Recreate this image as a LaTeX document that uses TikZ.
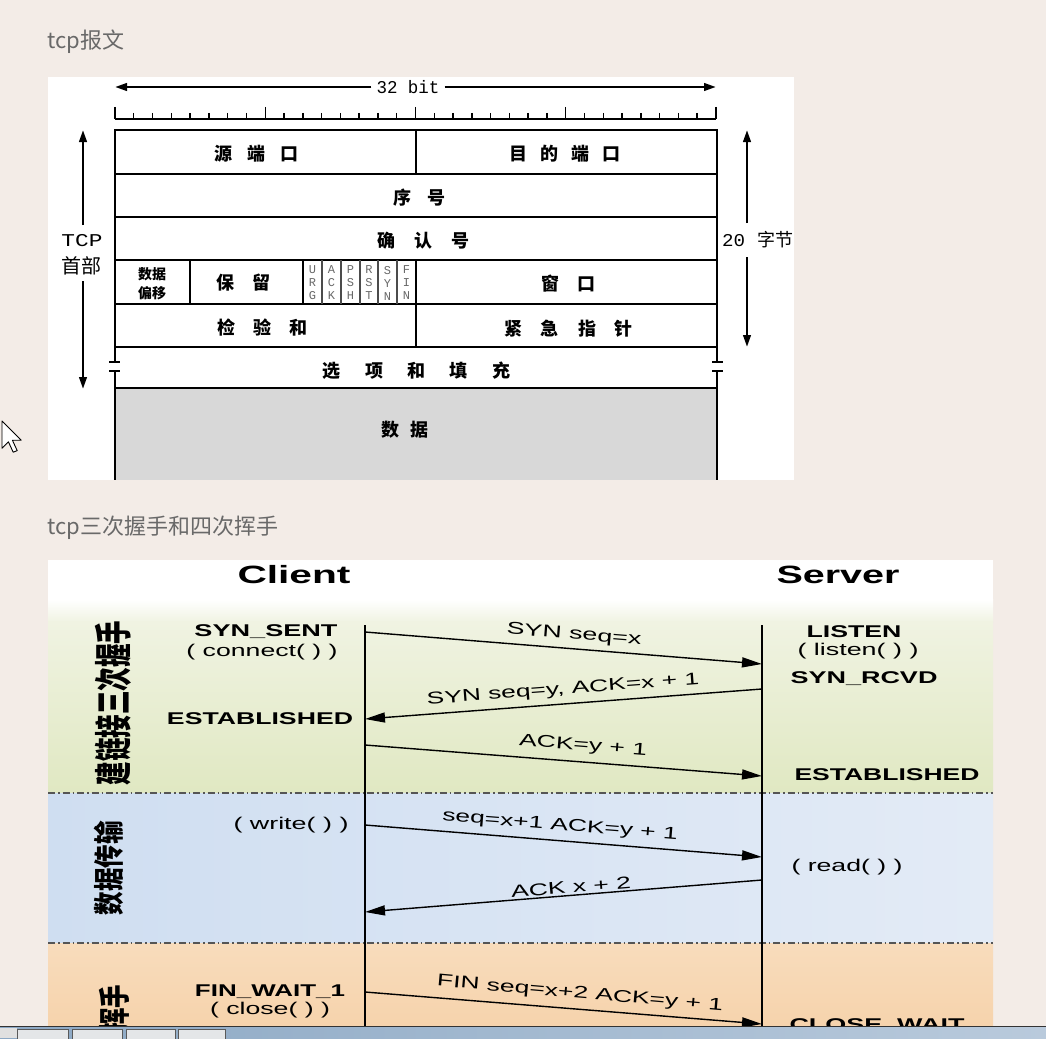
\documentclass[tikz,border=0pt]{standalone}
\usepackage{fontspec}
\setmainfont{Liberation Sans}
\newfontfamily\cjk{Noto Sans CJK SC}
\newfontfamily\monof{Liberation Mono}
\usetikzlibrary{arrows.meta}
\definecolor{bgc}{RGB}{243,236,231}
\definecolor{titlec}{RGB}{105,105,105}
\definecolor{datac}{RGB}{216,216,216}
\definecolor{greenT}{RGB}{240,243,226}
\definecolor{greenB}{RGB}{224,232,194}
\definecolor{blueL}{RGB}{207,222,241}
\definecolor{blueR}{RGB}{227,235,246}
\definecolor{orangeT}{RGB}{248,220,188}
\definecolor{orangeB}{RGB}{246,211,172}
\definecolor{flagc}{RGB}{105,105,105}
\definecolor{sepc}{RGB}{85,85,85}
\definecolor{taskL}{RGB}{140,168,196}
\definecolor{taskR}{RGB}{185,202,220}
\definecolor{btnc}{RGB}{228,230,232}
\newcommand\fitw[2]{\resizebox{#1}{\height}{#2}}
\newcommand\gp[1]{\hspace{#1pt}}
\begin{document}
\begin{tikzpicture}[x=1pt,y=-1pt,
  ttl/.style={font=\cjk\fontsize{22}{22}\selectfont, text=titlec, inner sep=0pt, anchor=west},
  tbl/.style={line width=1.7pt, black},
  flagln/.style={line width=1.2pt, black!70},
  tickln/.style={line width=1.4pt},
  toparr/.style={line width=2.5pt, -{Triangle[length=12pt,width=7.5pt]}},
  tcell/.style={font=\cjk\bfseries\fontsize{18}{18}\selectfont, inner sep=0pt},
  sidecell/.style={font=\cjk\fontsize{18}{18}\selectfont, inner sep=0pt},
  smallcell/.style={font=\cjk\bfseries\fontsize{14}{19}\selectfont, inner sep=0pt, align=center},
  monot/.style={font=\monof\fontsize{18}{18}\selectfont, inner sep=0pt},
  flagtxt/.style={font=\monof\fontsize{12}{13}\selectfont, text=flagc, align=center, inner sep=0pt},
  hdr/.style={font=\bfseries\fontsize{25}{25}\selectfont, inner sep=0pt},
  state/.style={font=\bfseries\fontsize{17}{17}\selectfont, inner sep=0pt},
  paren/.style={font=\fontsize{17}{17}\selectfont, inner sep=0pt},
  msg/.style={font=\fontsize{17}{17}\selectfont, inner sep=0pt},
  life/.style={line width=1.8pt},
  msgarr/.style={line width=1.4pt, -{Triangle[length=20pt,width=10pt]}},
  sepln/.style={line width=1.3pt, sepc, dash pattern=on 7pt off 3pt on 1.5pt off 3pt},
  vlab/.style={font=\cjk\bfseries\fontsize{23.5}{23.5}\selectfont, inner sep=0pt, rotate=90}
]
% background
\fill[bgc] (0,0) rectangle (1046,1038);
\useasboundingbox (0,0) rectangle (1046,1038);

% ===== titles =====
\node[ttl] (t1) at (47,42) {tcp报文};
\node[ttl] (t2) at (47,528) {tcp三次握手和四次挥手};

% ===== panel 1 =====
\fill[white] (48,77) rectangle (794,480);

% 32 bit arrow
\node[monot, inner xsep=5pt] (bits) at (408,87) {\fitw{63pt}{32 bit}};
\coordinate (bL) at (115,87);
\coordinate (bR) at (716,87);
\draw[toparr] (bits.west) -- (bL);
\draw[toparr] (bits.east) -- (bR);

% ruler
\draw[tickln] (115,119) -- (716,119);
\foreach \i in {0,...,32}{
  \pgfmathsetmacro\xx{115+\i*18.78}
  \pgfmathtruncatemacro\mm{mod(\i,8)}
  \ifnum\mm=0
    \draw[tickln] (\xx,107) -- (\xx,119);
  \else
    \draw[tickln] (\xx,113) -- (\xx,119);
  \fi
}

% data fill
\fill[datac] (115,388) rectangle (717,480);

% table lines
\foreach \yy in {130,174,217,260,304,347,388}{
  \draw[tbl] (115,\yy) -- (717,\yy);
}
\draw[tbl] (115,129.2) -- (115,362);
\draw[tbl] (115,372) -- (115,480);
\draw[tbl] (717,129.2) -- (717,362);
\draw[tbl] (717,372) -- (717,480);
\draw[line width=1.3pt] (109,362) -- (120,362);
\draw[line width=1.3pt] (109,371) -- (120,371);
\draw[line width=1.3pt] (712,362) -- (723,362);
\draw[line width=1.3pt] (712,371) -- (723,371);
\draw[tbl] (416,130) -- (416,174);
\draw[tbl] (416,260) -- (416,347);
\draw[tbl] (190,260) -- (190,304);
\draw[tbl] (303,260) -- (303,304);
\foreach \xx in {322,341,360,378,397}{
  \draw[flagln] (\xx,260) -- (\xx,304);
}

% table texts
\node[tcell] (srcport) at (256.5,154) {源\gp{15}端\gp{15}口};
\node[tcell] (dstport) at (565,154) {目\gp{13}的\gp{13}端\gp{13}口};
\node[tcell] (seqno) at (419.5,198) {序\gp{17}号};
\node[tcell] (ackno) at (423.5,241) {确\gp{19.5}认\gp{19.5}号};
\node[smallcell] (offset) at (152,284) {数据\\偏移};
\node[tcell] (resv) at (243.5,283) {保\gp{19}留};
\node[flagtxt] (fURG) at (312.5,283) {U\\R\\G};
\node[flagtxt] (fACK) at (331.5,283) {A\\C\\K};
\node[flagtxt] (fPSH) at (350.5,283) {P\\S\\H};
\node[flagtxt] (fRST) at (369,283) {R\\S\\T};
\node[flagtxt] (fSYN) at (387.5,283) {S\\Y\\N};
\node[flagtxt] (fFIN) at (406.5,283) {F\\I\\N};
\node[tcell] (window) at (568.5,283.5) {窗\gp{18}口};
\node[tcell] (chksum) at (262.5,327.5) {检\gp{18.5}验\gp{18.5}和};
\node[tcell] (urgent) at (568.5,328.5) {紧\gp{19}急\gp{19}指\gp{19}针};
\node[tcell] (options) at (416.5,371) {选\gp{24.5}项\gp{24.5}和\gp{24.5}填\gp{24.5}充};
\node[tcell] (data) at (405,430) {数\gp{12}据};

% TCP header arrow (left)
\node[monot] (tcpl) at (82,241) {\fitw{41pt}{TCP}};
\node[sidecell, font=\cjk\fontsize{20}{20}\selectfont] (shoubu) at (81,266) {首部};
\coordinate (tcpS1) at (83,225);
\coordinate (tcpTop) at (83,130);
\coordinate (tcpS2) at (83,281);
\coordinate (tcpBot) at (83,389);
\draw[toparr] (tcpS1) -- (tcpTop);
\draw[toparr] (tcpS2) -- (tcpBot);

% 20 bytes arrow (right)
\node[sidecell, anchor=west] (bytes) at (722,240) {{\monof\fitw{23pt}{20}}\gp{12}字节};
\coordinate (byS1) at (747,223);
\coordinate (byTop) at (747,130);
\coordinate (byS2) at (747,257);
\coordinate (byBot) at (747,347);
\draw[toparr] (byS1) -- (byTop);
\draw[toparr] (byS2) -- (byBot);

% ===== panel 2 =====
\fill[white] (48,560) rectangle (993,600);
\shade[top color=white, bottom color=greenT] (48,599.5) rectangle (993,622);
\shade[top color=greenT, bottom color=greenB] (48,621.5) rectangle (993,793);
\shade[left color=blueL, right color=blueR] (48,793) rectangle (993,943);
\shade[top color=orangeT, bottom color=orangeB] (48,943) rectangle (993,1026);
\draw[sepln] (48,793) -- (993,793);
\draw[sepln] (48,943) -- (993,943);

\node[hdr] (client) at (294,575) {\fitw{113pt}{Client}};
\node[hdr] (server) at (838,575) {\fitw{123pt}{Server}};

% vertical phase labels
\node[vlab] (ph1) at (113,703) {\scalebox{1}[1.6]{建链接三次握手}};
\node[vlab] (ph2) at (109,868) {\scalebox{1}[1.3]{数据传输}};
\node[vlab] (ph3) at (114,1008) {\scalebox{1}[1.35]{挥手}};

% lifelines
\coordinate (cTop) at (365,625);
\coordinate (cBot) at (365,1026);
\coordinate (sTop) at (762,625);
\coordinate (sBot) at (762,1026);
\draw[life] (cTop) -- (cBot);
\draw[life] (sTop) -- (sBot);

% client states
\node[state] (synsent) at (266,632) {\fitw{143pt}{SYN\_SENT}};
\node[paren] (connect) at (262,652) {\fitw{151pt}{( connect( ) )}};
\node[state] (estc) at (260,719) {\fitw{186pt}{ESTABLISHED}};
\node[paren] (write) at (291,825) {\fitw{115pt}{( write( ) )}};
\node[state] (finw) at (270,992) {\fitw{150pt}{FIN\_WAIT\_1}};
\node[paren] (close) at (270,1010) {\fitw{120pt}{( close( ) )}};

% server states
\node[state] (listen) at (854,632) {\fitw{95pt}{LISTEN}};
\node[paren] (listenf) at (858,651) {\fitw{121pt}{( listen( ) )}};
\node[state] (synr) at (864,679) {\fitw{147pt}{SYN\_RCVD}};
\node[state] (ests) at (887,775) {\fitw{185pt}{ESTABLISHED}};
\node[paren] (read) at (847,867) {\fitw{111pt}{( read( ) )}};
\node[state, anchor=north] (closew) at (877,1018) {\fitw{175pt}{CLOSE\_WAIT}};

% message endpoints
\coordinate (c1) at (365,632);  \coordinate (s1) at (762,664);
\coordinate (s2) at (762,689);  \coordinate (c2) at (365,719);
\coordinate (c3) at (365,745);  \coordinate (s3) at (762,776);
\coordinate (c4) at (365,825);  \coordinate (s4) at (762,857);
\coordinate (s5) at (762,880);  \coordinate (c5) at (365,912);
\coordinate (c6) at (365,992);  \coordinate (s6) at (762,1024);
\draw[msgarr] (c1) -- (s1);
\draw[msgarr] (s2) -- (c2);
\draw[msgarr] (c3) -- (s3);
\draw[msgarr] (c4) -- (s4);
\draw[msgarr] (s5) -- (c5);
\draw[msgarr] (c6) -- (s6);

% message labels
\node[msg, rotate=-4.6] (m1) at (574,635) {\fitw{135pt}{SYN seq=x}};
\node[msg, rotate=4.3] (m2) at (563,690) {\fitw{273pt}{SYN seq=y, ACK=x + 1}};
\node[msg, rotate=-4.5] (m3) at (583,746) {\fitw{128pt}{ACK=y + 1}};
\node[msg, rotate=-4.6] (m4) at (560,826) {\fitw{236pt}{seq=x+1 ACK=y + 1}};
\node[msg, rotate=4.6] (m5) at (571,887) {\fitw{120pt}{ACK x + 2}};
\node[msg, rotate=-5] (m6) at (580,994) {\fitw{287pt}{FIN seq=x+2 ACK=y + 1}};

% mouse cursor
\begin{scope}[shift={(2,421)}, scale=1.6]
  \draw[fill=white, line width=0.9pt, line join=round]
    (0,0) -- (0,17) -- (4,13) -- (7,19.5) -- (9.5,18.5) -- (6.5,12) -- (12,12) -- cycle;
\end{scope}

% ===== taskbar =====
\fill[black!80] (0,1025.5) rectangle (1046,1027.5);
\shade[left color=taskL, right color=taskR] (0,1027.5) rectangle (1046,1038);
\fill[black!12] (0,1027.5) rectangle (17,1038);
\foreach \xa/\xb in {17/68, 72/122, 126/175, 178/225}{
  \draw[fill=btnc, draw=black!65, line width=0.8pt] (\xa,1029) rectangle (\xb,1039);
}
\end{tikzpicture}
\end{document}
